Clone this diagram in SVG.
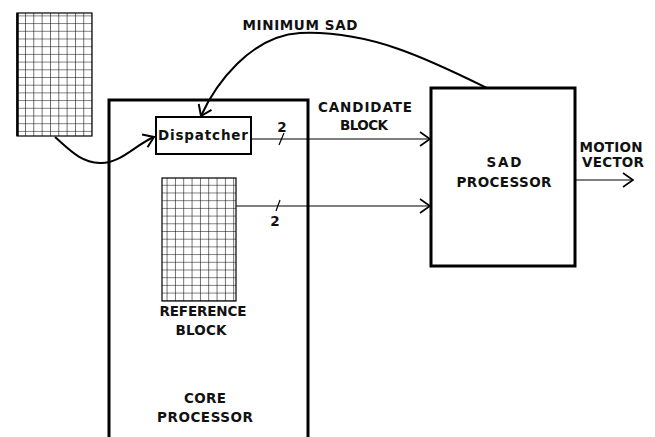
<svg xmlns="http://www.w3.org/2000/svg" width="655" height="437" viewBox="0 0 655 437">
<defs>
<style>
text{font-family:"DejaVu Sans","Liberation Sans",sans-serif;font-size:13.5px;fill:#111;}
.lbl{font-weight:bold;}
.box{fill:#fff;stroke:#000;stroke-width:3;}
.wire{fill:none;stroke:#000;stroke-width:1.2;}
.curve{fill:none;stroke:#000;stroke-width:2;}
</style>
<marker id="chev" markerUnits="userSpaceOnUse" markerWidth="16" markerHeight="18" refX="11" refY="8" orient="auto" viewBox="0 0 16 16">
<path d="M1,1 L11,8 L1,15" fill="none" stroke="#000" stroke-width="1.6"/>
</marker>
<marker id="chev2" markerUnits="userSpaceOnUse" markerWidth="16" markerHeight="18" refX="11" refY="8" orient="auto" viewBox="0 0 16 16">
<path d="M1,1 L11,8 L1,15" fill="none" stroke="#000" stroke-width="2"/>
</marker>
<pattern id="cells" patternUnits="userSpaceOnUse" width="8.33" height="7.7">
<path d="M0,0 H8.33 M0,0 V7.7" stroke="#000" stroke-width="1.1" fill="none"/>
</pattern>
</defs>

<g id="input-grid">
<rect x="17" y="13" width="75" height="123" fill="url(#cells)" stroke="#000" stroke-width="1.2"/>
<line x1="17.5" y1="13" x2="17.5" y2="136" stroke="#000" stroke-width="2.5"/>
</g>

<g id="core-processor">
<rect class="box" x="109" y="100" width="199" height="345"/>
<text class="lbl" x="205" y="403" text-anchor="middle" textLength="42">CORE</text>
<text class="lbl" x="205" y="422" text-anchor="middle" textLength="96">PROCESSOR</text>
</g>

<g id="dispatcher">
<rect x="156" y="117" width="95" height="37" fill="#fff" stroke="#000" stroke-width="2"/>
<text class="lbl" x="203" y="140" text-anchor="middle" font-size="14" textLength="90">Dispatcher</text>
</g>

<g id="reference-block">
<rect x="162" y="178" width="74" height="123" fill="url(#cells)" stroke="#000" stroke-width="1.2"/>
<text class="lbl" x="203" y="316" text-anchor="middle" textLength="87">REFERENCE</text>
<text class="lbl" x="201" y="335" text-anchor="middle" textLength="51">BLOCK</text>
</g>

<g id="sad-processor">
<rect class="box" x="431" y="88" width="144" height="178"/>
<text class="lbl" x="504" y="167" text-anchor="middle" textLength="35">SAD</text>
<text class="lbl" x="504" y="187" text-anchor="middle" textLength="95">PROCESSOR</text>
</g>

<g id="connectors">
<path class="curve" d="M55,137 C70,150 80,162 100,163 C120,164 135,145 154,137" marker-end="url(#chev2)"/>
<path class="curve" d="M487,88 C430,60 370,30 300,33 C250,36 215,85 201,116" marker-end="url(#chev2)"/>
<line class="wire" x1="251" y1="139" x2="430" y2="139" marker-end="url(#chev)"/>
<line class="wire" x1="284" y1="133" x2="279" y2="145"/>
<line class="wire" x1="236" y1="206" x2="430" y2="206" marker-end="url(#chev)"/>
<line class="wire" x1="280" y1="200" x2="276" y2="211"/>
<line class="wire" x1="575" y1="180" x2="633" y2="180" marker-end="url(#chev)"/>
</g>

<g id="labels">
<text class="lbl" x="300" y="30" text-anchor="middle" textLength="115">MINIMUM SAD</text>
<text class="lbl" x="365" y="112" text-anchor="middle" textLength="94">CANDIDATE</text>
<text class="lbl" x="364" y="130" text-anchor="middle" textLength="48">BLOCK</text>
<text class="lbl" x="282" y="132" text-anchor="middle">2</text>
<text class="lbl" x="275" y="226" text-anchor="middle">2</text>
<text class="lbl" x="611" y="152" text-anchor="middle" textLength="63">MOTION</text>
<text class="lbl" x="613" y="167" text-anchor="middle" textLength="62">VECTOR</text>
</g>
</svg>
